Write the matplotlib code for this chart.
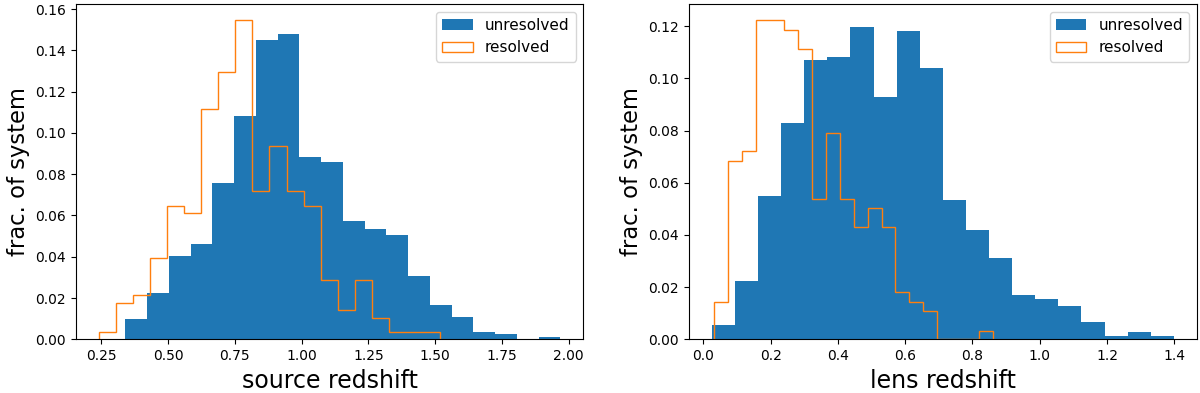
import numpy as np
import matplotlib
matplotlib.use("Agg")
import matplotlib.pyplot as plt

# source redshift: 20 bins each, fraction of systems per bin
src_unres_range = (0.340, 1.969)
src_unres_frac = [0.0097, 0.0223, 0.0405, 0.0462, 0.0759, 0.1083, 0.1450, 0.1479, 0.0885, 0.0858,
                  0.0575, 0.0533, 0.0504, 0.0307, 0.0168, 0.0110, 0.0037, 0.0024, 0.0, 0.0010]
src_res_range = (0.240, 1.519)
src_res_frac = [0.0034, 0.0177, 0.0215, 0.0396, 0.0646, 0.0611, 0.1117, 0.1296, 0.1547, 0.0719,
                0.0936, 0.0719, 0.0646, 0.0288, 0.0142, 0.0288, 0.0105, 0.0034, 0.0034, 0.0034]

# lens redshift
lens_unres_range = (0.025, 1.399)
lens_unres_frac = [0.0055, 0.0223, 0.0548, 0.0829, 0.1069, 0.1083, 0.1196, 0.0929, 0.1182, 0.1041,
                   0.0535, 0.0420, 0.0310, 0.0169, 0.0154, 0.0127, 0.0067, 0.0013, 0.0027, 0.0013]
lens_res_range = (0.0327, 0.861)
lens_res_frac = [0.0144, 0.0684, 0.0720, 0.1224, 0.1224, 0.1187, 0.1114, 0.0539, 0.0791, 0.0539,
                 0.0430, 0.0503, 0.0430, 0.0180, 0.0144, 0.0107, 0.0, 0.0, 0.0, 0.0033]

fig = plt.figure(figsize=(12, 3.93), dpi=100)
ax1 = fig.add_axes([0.0631, 0.1366, 0.4230, 0.8532])
ax2 = fig.add_axes([0.5739, 0.1366, 0.4236, 0.8532])


def draw(ax, unres_range, unres_frac, res_range, res_frac, xlabel):
    e1 = np.linspace(unres_range[0], unres_range[1], len(unres_frac) + 1)
    e2 = np.linspace(res_range[0], res_range[1], len(res_frac) + 1)
    ax.hist(e1[:-1], bins=e1, weights=unres_frac, color='C0', label='unresolved')
    ax.hist(e2[:-1], bins=e2, weights=res_frac, histtype='step', color='C1',
            linewidth=1.0, label='resolved')
    ax.set_xlabel(xlabel, fontsize=17)
    ax.set_ylabel('frac. of system', fontsize=16.3)
    ax.tick_params(labelsize=10)
    ax.legend(loc='upper right', fontsize=11)


draw(ax1, src_unres_range, src_unres_frac, src_res_range, src_res_frac, 'source redshift')
draw(ax2, lens_unres_range, lens_unres_frac, lens_res_range, lens_res_frac, 'lens redshift')

fig.savefig('out.png', dpi=100)
